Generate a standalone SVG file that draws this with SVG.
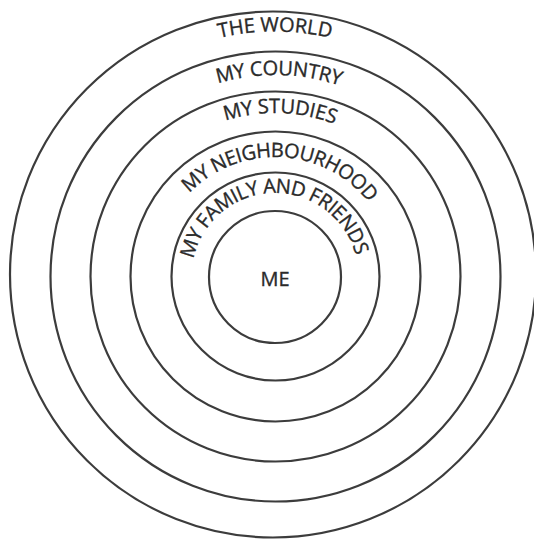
<svg xmlns="http://www.w3.org/2000/svg" xmlns:xlink="http://www.w3.org/1999/xlink" width="534" height="541" viewBox="0 0 534 541">
  <style>
    .ring { fill: none; stroke: #3c3c3c; stroke-width: 2.2; }
    .lbl { font-family: "Open Sans", "Liberation Sans", sans-serif; fill: #2a2a2a; stroke: #2a2a2a; stroke-width: 0.35; font-size: 20px; font-weight: 400; }
  </style>
  <defs>
    <path id="pWorld" d="M 275,521.5 A 245 245 0 0 1 275,31.5 A 245 245 0 0 1 275,521.5"/>
    <path id="pCountry" d="M 275,478 A 201.5 201.5 0 0 1 275,75 A 201.5 201.5 0 0 1 275,478"/>
    <path id="pStudies" d="M 275,440 A 163.5 163.5 0 0 1 275,113 A 163.5 163.5 0 0 1 275,440"/>
    <path id="pNeigh" d="M 275,396 A 119.5 119.5 0 0 1 275,157 A 119.5 119.5 0 0 1 275,396"/>
    <path id="pFamily" d="M 275,360 A 83.5 83.5 0 0 1 275,193 A 83.5 83.5 0 0 1 275,360"/>
  </defs>
  <g id="world">
    <circle class="ring" cx="273" cy="274.5" r="263"/>
    <text class="lbl" font-size="23.5" letter-spacing="-0.1"><textPath xlink:href="#pWorld" href="#pWorld" startOffset="50%" text-anchor="middle">THE WORLD</textPath></text>
  </g>
  <g id="country">
    <circle class="ring" cx="275.5" cy="276.5" r="225"/>
    <text class="lbl" font-size="23" letter-spacing="-0.3"><textPath xlink:href="#pCountry" href="#pCountry" startOffset="50.3%" text-anchor="middle">MY COUNTRY</textPath></text>
  </g>
  <g id="studies">
    <circle class="ring" cx="275.5" cy="276.5" r="185"/>
    <text class="lbl" font-size="22.5" letter-spacing="-0.2"><textPath xlink:href="#pStudies" href="#pStudies" startOffset="50.5%" text-anchor="middle">MY STUDIES</textPath></text>
  </g>
  <g id="neighbourhood">
    <circle class="ring" cx="275.5" cy="276.5" r="145"/>
    <text class="lbl" font-size="21" letter-spacing="-0.5"><textPath xlink:href="#pNeigh" href="#pNeigh" startOffset="50.8%" text-anchor="middle">MY NEIGHBOURHOOD</textPath></text>
  </g>
  <g id="family">
    <circle class="ring" cx="275.5" cy="276.5" r="104"/>
    <text class="lbl" font-size="20.5" letter-spacing="-0.6"><textPath xlink:href="#pFamily" href="#pFamily" startOffset="49.6%" text-anchor="middle">MY FAMILY AND FRIENDS</textPath></text>
  </g>
  <g id="me">
    <circle class="ring" cx="275" cy="277" r="66"/>
    <text class="lbl" x="275" y="286" font-size="24" text-anchor="middle">ME</text>
  </g>
</svg>
